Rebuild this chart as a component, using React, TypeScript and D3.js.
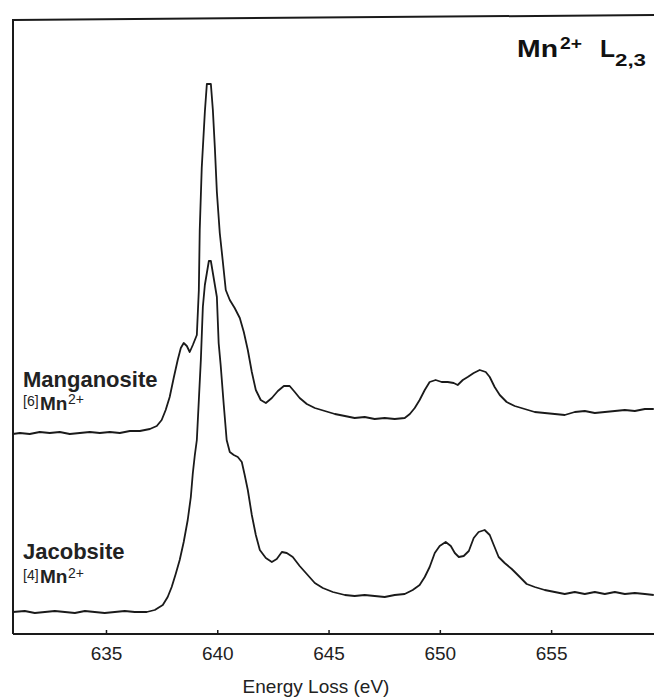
import React from "react";
import * as d3 from "d3";

// Energy loss (eV) and intensity (arbitrary units, offset spectra)
const mangEnergy = [630.79,631.11,631.55,632.0,632.45,632.9,633.35,633.8,634.25,634.7,635.15,635.6,636.05,636.5,636.95,637.26,637.48,637.66,637.84,638.02,638.2,638.34,638.47,638.61,638.74,638.88,639.06,639.15,639.19,639.28,639.42,639.51,639.69,639.78,639.87,639.96,640.09,640.22,640.36,640.54,640.76,640.99,641.17,641.35,641.53,641.71,641.93,642.16,642.43,642.7,642.97,643.23,643.46,643.68,644.0,644.36,644.81,645.26,645.71,646.15,646.6,647.05,647.5,647.95,648.4,648.63,648.85,649.07,649.3,649.52,649.79,650.06,650.33,650.6,650.78,651.01,651.23,651.5,651.77,652.04,652.22,652.44,652.67,652.98,653.34,653.79,654.24,654.69,655.14,655.59,656.04,656.49,656.94,657.39,657.84,658.29,658.74,659.19,659.59];
const mangIntensity = [200,201,200,202,201,202,200,201,202,201,202,201,203,203,205,208,214,224,237,256,274,286,291,288,282,289,299,344,404,466,522,550,550,524,486,442,401,374,344,334,326,316,302,284,262,244,234,231,236,243,248,248,242,236,230,226,223,220,218,216,217,215,216,215,216,220,226,234,244,252,254,252,252,251,249,254,257,261,264,262,257,247,239,232,228,225,222,221,220,219,222,223,221,222,223,224,223,225,225];

const jacEnergy = [630.79,631.33,631.78,632.23,632.68,633.13,633.58,634.03,634.47,634.92,635.37,635.82,636.27,636.81,637.17,637.53,637.75,637.93,638.11,638.29,638.47,638.65,638.79,638.88,638.97,639.06,639.15,639.24,639.33,639.42,639.51,639.6,639.69,639.78,639.87,639.96,640.04,640.13,640.27,640.4,640.54,640.72,640.9,641.08,641.21,641.35,641.53,641.71,641.89,642.16,642.43,642.65,642.88,643.1,643.37,643.68,644.0,644.36,644.72,645.17,645.71,646.15,646.6,647.05,647.5,647.95,648.4,648.76,649.07,649.3,649.52,649.75,649.97,650.24,650.47,650.65,650.83,651.05,651.28,651.5,651.72,651.99,652.22,652.4,652.62,652.89,653.21,653.57,653.88,654.24,654.69,655.14,655.59,656.04,656.49,656.94,657.39,657.84,658.29,658.74,659.19,659.59];
const jacIntensity = [22,23,21,22,23,22,21,23,22,21,22,23,22,22,24,29,37,47,60,74,92,114,137,161,179,194,234,274,327,349,361,373,373,361,349,337,291,269,229,194,182,179,177,172,159,144,119,99,84,76,72,75,82,81,77,68,60,51,46,42,39,38,39,38,37,39,40,44,49,57,67,81,88,92,88,81,77,78,83,96,102,104,99,89,77,71,65,57,50,47,44,42,40,42,40,42,40,42,40,41,40,39,38,37];

const xTicks = [635, 640, 645, 650, 655];
const xDomain = [630.8, 659.6];
const yDomain = [0, 618];

const FONT = "'Liberation Sans', Arial, Helvetica, sans-serif";

export default function App() {
  const W = 654, H = 699;
  const left = 13, right = 654, top = 16, bottom = 634;
  const x = d3.scaleLinear().domain(xDomain).range([left, right]);
  const y = d3.scaleLinear().domain(yDomain).range([bottom, top]);
  const line = d3.line<[number, number]>().x(d => x(d[0])).y(d => y(d[1])).curve(d3.curveLinear);
  const mang = mangEnergy.map((e, i) => [e, mangIntensity[i]] as [number, number]);
  const jac = jacEnergy.map((e, i) => [e, jacIntensity[i]] as [number, number]);
  const ink = "#1a1a1a";

  return (
    <svg width={W} height={H} style={{ position: "absolute", left: 0, top: 0, background: "#fff" }} fontFamily={FONT}>
      <rect x={0} y={0} width={W} height={H} fill="#fff" />
      {/* frame */}
      <line x1={left} y1={20} x2={right} y2={15} stroke={ink} strokeWidth={2} />
      <line x1={left} y1={19} x2={left} y2={bottom} stroke={ink} strokeWidth={2} />
      <line x1={left} y1={bottom} x2={right} y2={bottom} stroke={ink} strokeWidth={2} />
      {xTicks.map(t => (
        <g key={t}>
          <line x1={x(t)} x2={x(t)} y1={bottom} y2={bottom - 4} stroke={ink} strokeWidth={1.5} />
          <text x={x(t)} y={660} textAnchor="middle" fontSize={19} fill="#222">{t}</text>
        </g>
      ))}
      <text x={316} y={693} textAnchor="middle" fontSize={19} fill="#222">Energy Loss (eV)</text>

      <path d={line(mang) || ""} fill="none" stroke={ink} strokeWidth={1.8} strokeLinejoin="round" />
      <path d={line(jac) || ""} fill="none" stroke={ink} strokeWidth={1.8} strokeLinejoin="round" />

      {/* title */}
      <g fill="#111" fontWeight="bold">
        <text x={517} y={57} fontSize={24} textLength={41} lengthAdjust="spacingAndGlyphs">Mn</text>
        <text x={560} y={49} fontSize={17} textLength={22} lengthAdjust="spacingAndGlyphs">2+</text>
        <text x={600} y={57} fontSize={24} textLength={15} lengthAdjust="spacingAndGlyphs">L</text>
        <text x={615} y={66} fontSize={17} textLength={31} lengthAdjust="spacingAndGlyphs">2,3</text>
      </g>

      {/* sample labels */}
      <g fill="#222">
        <text x={23} y={387} fontSize={22} fontWeight="bold">Manganosite</text>
        <text x={23} y={406} fontSize={14}>[6]</text>
        <text x={40} y={410} fontSize={19} fontWeight="bold">Mn</text>
        <text x={68} y={404} fontSize={14}>2+</text>

        <text x={23} y={559} fontSize={22} fontWeight="bold">Jacobsite</text>
        <text x={23} y={580} fontSize={14}>[4]</text>
        <text x={40} y={583} fontSize={19} fontWeight="bold">Mn</text>
        <text x={68} y={578} fontSize={14}>2+</text>
      </g>
    </svg>
  );
}
